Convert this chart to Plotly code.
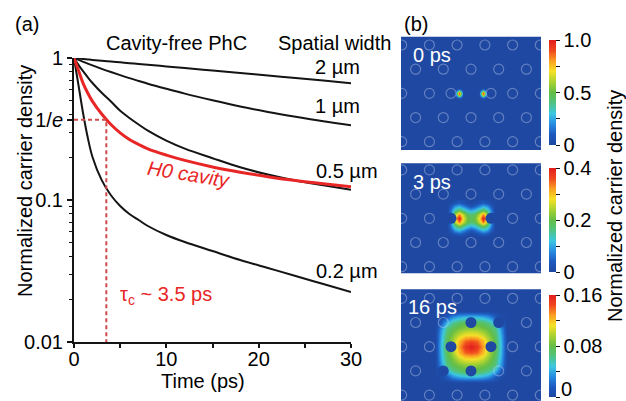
import plotly.graph_objects as go
import numpy as np

W, H = 626, 401
FONT = "Liberation Sans, Arial, Helvetica, sans-serif"

# ---------------- panel (a) data ----------------
t_ps = [0, 0.5, 1, 1.5, 2, 3, 4, 5, 6, 7, 8, 10, 12, 15, 18, 21, 24, 27, 30]
dens_2um = [1.0, 0.992, 0.984, 0.977, 0.970, 0.956, 0.943, 0.932, 0.920, 0.908, 0.896,
            0.873, 0.851, 0.816, 0.784, 0.752, 0.722, 0.693, 0.665]
dens_1um = [1.0, 0.969, 0.940, 0.912, 0.887, 0.839, 0.796, 0.757, 0.721, 0.689, 0.659,
            0.607, 0.561, 0.504, 0.456, 0.417, 0.385, 0.358, 0.336]
dens_05um = [1.0, 0.891, 0.804, 0.730, 0.667, 0.569, 0.494, 0.425, 0.378, 0.340, 0.308,
             0.262, 0.230, 0.197, 0.170, 0.151, 0.137, 0.127, 0.118]
dens_02um = [1.0, 0.635, 0.403, 0.273, 0.201, 0.138, 0.108, 0.0907, 0.0797, 0.0723, 0.0656,
             0.0567, 0.0506, 0.0437, 0.0378, 0.0332, 0.0292, 0.0256, 0.0225]
dens_h0 = [1.0, 0.813, 0.660, 0.565, 0.495, 0.403, 0.340, 0.297, 0.267, 0.246, 0.229,
           0.207, 0.190, 0.171, 0.157, 0.146, 0.137, 0.130, 0.124]
tau_c = 3.5
inv_e = float(np.exp(-1))

x_ticks = [0, 10, 20, 30]
x_minor = [5, 15, 25]
y_ticks = [0.01, 0.1, inv_e, 1]
y_ticktext = ["0.01", "0.1", "1/<i>e</i>", "1"]
y_minor = [0.02, 0.03, 0.04, 0.05, 0.06, 0.07, 0.08, 0.09,
           0.2, 0.3, 0.4, 0.5, 0.6, 0.7, 0.8, 0.9]

# ---------------- panel (b) data ----------------
# hole lattice (pixel units relative to map centre)
rows_y = [48.4, 24.2, 0.0, -24.2, -48.4]
even_row_x = [-69.3, -41.6, -13.9, 13.9, 41.6, 69.3]
odd_row_x = [-55.4, -27.7, 0.0, 27.7, 55.4]
cavity_row_x = [-69.3, -41.6, -20.0, 20.0, 41.6, 69.3]
row_xs = [even_row_x, odd_row_x, cavity_row_x, odd_row_x, even_row_x]

filled_holes = [
    [],
    [(-20.0, 0.0), (20.0, 0.0)],
    [(0.0, 24.2), (27.7, 24.2), (-20.0, 0.0), (20.0, 0.0), (-27.7, -24.2), (0.0, -24.2)],
]

# 0 ps field
x0 = [-18, -16, -14, -12, -10, -8, -6, -4, -2, 0, 2, 4, 6, 8, 10, 12, 14, 16, 18]
y0 = [-6, -4, -2, 0, 2, 4, 6]
z0 = [
    [0] * 19,
    [0, 0, 0.06, 0.15, 0.06, 0, 0, 0, 0, 0, 0, 0, 0, 0, 0.06, 0.15, 0.06, 0, 0],
    [0, 0.02, 0.30, 0.65, 0.30, 0.02, 0, 0, 0, 0, 0, 0, 0, 0.02, 0.30, 0.65, 0.30, 0.02, 0],
    [0, 0.04, 0.50, 1.00, 0.50, 0.04, 0, 0, 0, 0, 0, 0, 0, 0.04, 0.50, 1.00, 0.50, 0.04, 0],
    [0, 0.02, 0.30, 0.65, 0.30, 0.02, 0, 0, 0, 0, 0, 0, 0, 0.02, 0.30, 0.65, 0.30, 0.02, 0],
    [0, 0, 0.06, 0.15, 0.06, 0, 0, 0, 0, 0, 0, 0, 0, 0, 0.06, 0.15, 0.06, 0, 0],
    [0] * 19,
]
# 3 ps field
x3 = [-24, -20, -16, -12, -8, -4, 0, 4, 8, 12, 16, 20, 24]
y3 = [-16, -12, -8, -4, 0, 4, 8, 12, 16]
z3 = [
    [0, 0.005, 0.02, 0.03, 0.02, 0.005, 0, 0.005, 0.02, 0.03, 0.02, 0.005, 0],
    [0, 0.04, 0.09, 0.11, 0.08, 0.05, 0.03, 0.05, 0.08, 0.11, 0.09, 0.04, 0],
    [0, 0.07, 0.15, 0.19, 0.16, 0.12, 0.10, 0.12, 0.16, 0.19, 0.15, 0.07, 0],
    [0, 0.08, 0.24, 0.33, 0.25, 0.19, 0.17, 0.19, 0.25, 0.33, 0.24, 0.08, 0],
    [0, 0.05, 0.30, 0.40, 0.28, 0.21, 0.19, 0.21, 0.28, 0.40, 0.30, 0.05, 0],
    [0, 0.08, 0.24, 0.33, 0.25, 0.19, 0.17, 0.19, 0.25, 0.33, 0.24, 0.08, 0],
    [0, 0.07, 0.15, 0.19, 0.16, 0.12, 0.10, 0.12, 0.16, 0.19, 0.15, 0.07, 0],
    [0, 0.04, 0.09, 0.11, 0.08, 0.05, 0.03, 0.05, 0.08, 0.11, 0.09, 0.04, 0],
    [0, 0.005, 0.02, 0.03, 0.02, 0.005, 0, 0.005, 0.02, 0.03, 0.02, 0.005, 0],
]
# 16 ps field
x16 = [-36, -30, -24, -18, -12, -6, 0, 6, 12, 18, 24, 30, 36]
y16 = [-36, -30, -24, -18, -12, -6, 0, 6, 12, 18, 24, 30, 36]
z16 = [
    [0] * 13,
    [0, 0.004, 0.015, 0.032, 0.040, 0.044, 0.045, 0.044, 0.040, 0.032, 0.015, 0.004, 0],
    [0, 0.015, 0.045, 0.062, 0.071, 0.076, 0.078, 0.076, 0.071, 0.062, 0.045, 0.015, 0],
    [0, 0.034, 0.066, 0.078, 0.085, 0.090, 0.092, 0.090, 0.085, 0.078, 0.066, 0.034, 0],
    [0, 0.040, 0.072, 0.087, 0.102, 0.111, 0.113, 0.111, 0.102, 0.087, 0.072, 0.040, 0],
    [0, 0.043, 0.076, 0.096, 0.121, 0.138, 0.142, 0.138, 0.121, 0.096, 0.076, 0.043, 0],
    [0, 0.045, 0.078, 0.100, 0.128, 0.150, 0.160, 0.150, 0.128, 0.100, 0.078, 0.045, 0],
    [0, 0.043, 0.076, 0.096, 0.121, 0.138, 0.142, 0.138, 0.121, 0.096, 0.076, 0.043, 0],
    [0, 0.040, 0.072, 0.087, 0.102, 0.111, 0.113, 0.111, 0.102, 0.087, 0.072, 0.040, 0],
    [0, 0.034, 0.066, 0.078, 0.085, 0.090, 0.092, 0.090, 0.085, 0.078, 0.066, 0.034, 0],
    [0, 0.015, 0.045, 0.062, 0.071, 0.076, 0.078, 0.076, 0.071, 0.062, 0.045, 0.015, 0],
    [0, 0.004, 0.015, 0.032, 0.040, 0.044, 0.045, 0.044, 0.040, 0.032, 0.015, 0.004, 0],
    [0] * 13,
]
map_fields = [(x0, y0, z0), (x3, y3, z3), (x16, y16, z16)]
map_labels = ["0 ps", "3 ps", "16 ps"]
cbar_max = [1.0, 0.4, 0.16]
cbar_ticks = [[0, 0.25, 0.5, 0.75, 1.0], [0, 0.1, 0.2, 0.3, 0.4], [0, 0.04, 0.08, 0.12, 0.16]]
cbar_text = [["0", " ", "0.5", " ", "1.0"], ["0", " ", "0.2", " ", "0.4"], [" ", " ", "0.08", " ", "0.16"]]

# ---------------- layout geometry (pixels) ----------------
def px(x):
    return x / W

def py(y):
    return 1 - y / H

BLUE0 = "rgb(30,72,162)"
cscale = [
    [0.0, BLUE0],
    [0.1, "rgb(30,90,190)"],
    [0.2, "rgb(40,140,225)"],
    [0.3, "rgb(60,200,225)"],
    [0.4, "rgb(80,195,130)"],
    [0.5, "rgb(100,190,70)"],
    [0.6, "rgb(170,210,50)"],
    [0.7, "rgb(245,225,40)"],
    [0.8, "rgb(250,160,35)"],
    [0.9, "rgb(240,70,30)"],
    [1.0, "rgb(225,30,30)"],
]

fig = go.Figure()

black = "rgb(20,20,20)"
red = "rgb(232,38,38)"
for dens in [dens_2um, dens_1um, dens_05um, dens_02um]:
    fig.add_trace(go.Scatter(x=t_ps, y=dens, mode="lines", line=dict(color=black, width=2),
                             line_shape="spline", cliponaxis=False, xaxis="x", yaxis="y"))
fig.add_trace(go.Scatter(x=t_ps, y=dens_h0, mode="lines", line=dict(color=red, width=3),
                         line_shape="spline", cliponaxis=False, xaxis="x", yaxis="y"))
fig.add_trace(go.Scatter(x=[0, tau_c, tau_c], y=[inv_e, inv_e, 0.01], mode="lines",
                         line=dict(color="rgb(205,75,75)", width=2, dash="4px,3px"),
                         xaxis="x", yaxis="y"))

map_x_dom = [px(401), px(541)]
map_tops = [36.7, 163.3, 289.3]
map_bots = [150.0, 273.3, 401.0]
map_yrange = [[-56.7, 56.7], [-55.0, 55.0], [-54.3, 57.4]]
cbar_tops = [40.0, 168.0, 295.0]
cbar_bots = [145.0, 271.7, 397.0]

for i in range(3):
    ax = str(i + 2)
    cax = "coloraxis" if i == 0 else "coloraxis" + str(i + 1)
    # background (zero field)
    fig.add_trace(go.Heatmap(x=[-70, 70], y=map_yrange[i], z=[[0, 0], [0, 0]],
                             coloraxis=cax, xaxis="x" + ax, yaxis="y" + ax, hoverinfo="skip"))
    fx, fy, fz = map_fields[i]
    fig.add_trace(go.Heatmap(x=fx, y=fy, z=fz, zsmooth="best", coloraxis=cax,
                             xaxis="x" + ax, yaxis="y" + ax, hoverinfo="skip"))
    filled = filled_holes[i]
    hx, hy = [], []
    for ry, rxs in zip(rows_y, row_xs):
        for rx in rxs:
            if (rx, ry) not in filled:
                hx.append(rx)
                hy.append(ry)
    fig.add_trace(go.Scatter(x=hx, y=hy, mode="markers",
                             marker=dict(symbol="circle-open", size=10,
                                         color="rgba(200,212,238,0.4)",
                                         line=dict(width=1.2, color="rgba(200,212,238,0.4)")),
                             xaxis="x" + ax, yaxis="y" + ax, hoverinfo="skip"))
    if filled:
        fig.add_trace(go.Scatter(x=[p[0] for p in filled], y=[p[1] for p in filled], mode="markers",
                                 marker=dict(symbol="circle", size=11, color=BLUE0, line=dict(width=0)),
                                 xaxis="x" + ax, yaxis="y" + ax, hoverinfo="skip"))

layout = dict(
    width=W, height=H, margin=dict(l=0, r=0, t=0, b=0, autoexpand=False),
    paper_bgcolor="white", plot_bgcolor="white", showlegend=False,
    font=dict(family=FONT, size=20, color="black"),
    xaxis=dict(domain=[px(74), px(351)], range=[0, 30], anchor="y",
               showline=True, linecolor=black, linewidth=2, showgrid=False, zeroline=False,
               tickmode="array", tickvals=x_ticks, ticks="outside", ticklen=4, tickwidth=1.5,
               tickcolor=black, tickfont=dict(size=20), ticklabelstandoff=-6,
               minor=dict(tickmode="array", tickvals=x_minor, ticks="outside", ticklen=4,
                          tickwidth=1.5, tickcolor=black)),
    yaxis=dict(domain=[py(342), py(58)], type="log", range=[-2, 0], anchor="x",
               showline=True, linecolor=black, linewidth=2, showgrid=False, zeroline=False,
               tickmode="array", tickvals=y_ticks, ticktext=y_ticktext, ticks="outside",
               ticklen=5, tickwidth=1.5, tickcolor=black, tickfont=dict(size=20),
               minor=dict(tickmode="array", tickvals=y_minor, ticks="outside", ticklen=3,
                          tickwidth=1.2, tickcolor=black)),
)
for i in range(3):
    ax = str(i + 2)
    layout["xaxis" + ax] = dict(domain=map_x_dom, range=[-70, 70], visible=False, anchor="y" + ax)
    layout["yaxis" + ax] = dict(domain=[py(map_bots[i]), py(map_tops[i])], range=map_yrange[i],
                                visible=False, anchor="x" + ax)
    cax = "coloraxis" if i == 0 else "coloraxis" + str(i + 1)
    layout[cax] = dict(
        cmin=0, cmax=cbar_max[i], colorscale=cscale,
        colorbar=dict(x=px(548.5), xanchor="left", xpad=0, y=py(cbar_tops[i]), yanchor="top",
                      ypad=0, len=(cbar_bots[i] - cbar_tops[i]) / H, lenmode="fraction",
                      thickness=7, thicknessmode="pixels", outlinewidth=0,
                      tickmode="array", tickvals=cbar_ticks[i], ticktext=cbar_text[i],
                      ticks="outside", ticklen=4, tickwidth=1.2, tickcolor=black,
                      tickfont=dict(size=20, family=FONT)))
fig.update_layout(**layout)

ann = []
def text(x, y, s, size=20, color="black", angle=0, xanchor="center"):
    ann.append(dict(x=px(x), y=py(y), xref="paper", yref="paper", text=s, showarrow=False,
                    xanchor=xanchor, yanchor="middle", textangle=angle,
                    font=dict(size=size, color=color, family=FONT)))

text(27, 24, "(a)")
text(176, 43, "Cavity-free PhC")
text(334, 43, "Spatial width")
text(337, 67, "2 µm")
text(337, 106, "1 µm")
text(347, 171, "0.5 µm")
text(347, 271, "0.2 µm")
text(188, 174, "<i>H0 cavity</i>", color=red, angle=9)
text(166, 295, "τ<sub>c</sub> ~ 3.5 ps", color=red)
text(203, 381, "Time (ps)")
text(25, 181, "Normalized carrier density", angle=-90)
text(416, 24, "(b)")
text(411, 55, map_labels[0], color="white", xanchor="left")
text(411, 182, map_labels[1], color="white", xanchor="left")
text(406, 307, map_labels[2], color="white", xanchor="left")
text(615, 206, "Normalized carrier density", angle=-90)
text(559, 389, "0", xanchor="left")
fig.update_layout(annotations=ann)

fig.write_html("out.html")
